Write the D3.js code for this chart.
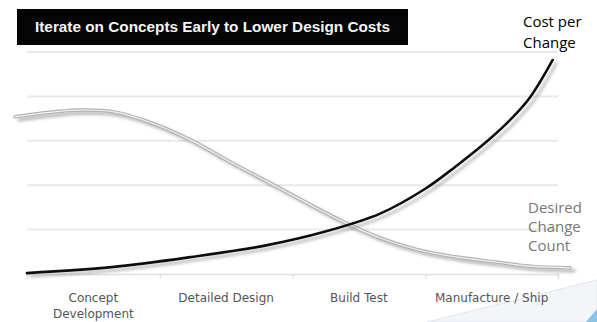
<!DOCTYPE html>
<html>
<head>
<meta charset="utf-8">
<script src="https://cdn.jsdelivr.net/npm/d3@7"></script>
<style>
	body { margin: 0; background: #fff; }
	svg { display: block; }
</style>
</head>
<body>
<svg id="chart" width="597" height="322"></svg>
<script>
// stages along the x axis, 0 = start of concept development
const stages = ["Concept\nDevelopment", "Detailed Design", "Build Test", "Manufacture / Ship"];

// cost per change (black curve)
const costX = [0, 0.655, 1.23, 1.81, 2.24, 2.66, 3.0, 3.22, 3.47, 3.64, 3.79, 3.96];
const costY = [0.02, 0.16, 0.38, 0.65, 0.95, 1.36, 1.92, 2.40, 3.00, 3.47, 3.98, 4.82];

// desired change count (grey curve)
const countX = [-0.09, 0.37, 0.655, 0.94, 1.23, 1.52, 1.81, 2.09, 2.38, 2.67, 2.95, 3.24, 3.53, 3.81, 4.09];
const countY = [3.54, 3.69, 3.65, 3.40, 3.02, 2.54, 2.08, 1.63, 1.18, 0.80, 0.54, 0.38, 0.27, 0.17, 0.14];

const gridValues = [1, 2, 3, 4, 5];

const svg = d3.select("#chart");

const x = d3.scaleLinear().domain([0, 4]).range([27, 558]);
const y = d3.scaleLinear().domain([0, 5]).range([274, 52]);

// drop shadow
const defs = svg.append("defs");
const f = defs.append("filter").attr("id", "shadow")
	.attr("x", "-10%").attr("y", "-10%").attr("width", "130%").attr("height", "130%");
f.append("feDropShadow")
	.attr("dx", 4).attr("dy", 3)
	.attr("stdDeviation", 1.6)
	.attr("flood-color", "#777")
	.attr("flood-opacity", 0.5);

// corner decoration
svg.append("polygon")
	.attr("points", "427,322 597,280 597,322")
	.attr("fill", "#f3f5f8")
	.attr("stroke", "#dfe5ec")
	.attr("stroke-width", 1);
svg.append("polygon")
	.attr("points", "586,322 597,309 597,322")
	.attr("fill", "#8cc2e6");

// gridlines
svg.append("g").selectAll("line")
	.data(gridValues)
	.join("line")
	.attr("x1", x(0)).attr("x2", x(4))
	.attr("y1", d => y(d)).attr("y2", d => y(d))
	.attr("stroke", "#e9e9e9")
	.attr("stroke-width", 2);

// x axis
const axis = svg.append("g")
	.attr("transform", "translate(0," + y(0) + ")")
	.call(d3.axisBottom(x).tickValues([0, 1, 2, 3, 4]).tickSize(5).tickFormat(""));
axis.select(".domain").attr("stroke", "#e0e0e0").attr("stroke-width", 1.5);
axis.selectAll(".tick line").attr("stroke", "#e0e0e0").attr("stroke-width", 1.2);

// stage labels
stages.forEach(function(s, i) {
	const t = svg.append("text")
		.attr("x", x(i + 0.5))
		.attr("y", 302)
		.attr("text-anchor", "middle")
		.attr("font-family", "DejaVu Sans, sans-serif")
		.attr("font-size", 12)
		.attr("fill", "#555");
	s.split("\n").forEach(function(part, j) {
		t.append("tspan")
			.attr("x", x(i + 0.5))
			.attr("dy", j == 0 ? 0 : 16)
			.text(part);
	});
});

const line = d3.line()
	.x(d => x(d[0]))
	.y(d => y(d[1]))
	.curve(d3.curveCatmullRom.alpha(0.5));

const countPts = d3.zip(countX, countY);
const costPts = d3.zip(costX, costY);

// grey curve: outer stroke then light core
svg.append("path")
	.attr("d", line(countPts))
	.attr("fill", "none")
	.attr("stroke", "#b4b4b4")
	.attr("stroke-width", 3.6)
	.attr("stroke-linecap", "round")
	.attr("filter", "url(#shadow)");
svg.append("path")
	.attr("d", line(countPts))
	.attr("fill", "none")
	.attr("stroke", "#f2f2f2")
	.attr("stroke-width", 1.2)
	.attr("stroke-linecap", "round");

// black curve
svg.append("path")
	.attr("d", line(costPts))
	.attr("fill", "none")
	.attr("stroke", "#111")
	.attr("stroke-width", 2.6)
	.attr("stroke-linecap", "round")
	.attr("filter", "url(#shadow)");

// title bar
svg.append("rect")
	.attr("x", 17).attr("y", 9)
	.attr("width", 391).attr("height", 36)
	.attr("fill", "#050505");
svg.append("text")
	.attr("x", 35).attr("y", 32)
	.attr("font-family", "Liberation Sans, Arial, sans-serif")
	.attr("font-weight", "bold")
	.attr("font-size", 14)
	.attr("fill", "#f4f4f4")
	.attr("textLength", 355)
	.attr("lengthAdjust", "spacingAndGlyphs")
	.text("Iterate on Concepts Early to Lower Design Costs");

// series labels
const costLabel = svg.append("text")
	.attr("font-family", "Open Sans, Liberation Sans, sans-serif")
	.attr("font-size", 15)
	.attr("fill", "#000");
costLabel.append("tspan").attr("x", 523).attr("y", 27).text("Cost per");
costLabel.append("tspan").attr("x", 523).attr("y", 48).text("Change");

const countLabel = svg.append("text")
	.attr("font-family", "Open Sans, Liberation Sans, sans-serif")
	.attr("font-size", 15)
	.attr("fill", "#777");
["Desired", "Change", "Count"].forEach(function(w, i) {
	countLabel.append("tspan").attr("x", 528).attr("y", 213 + i * 19).text(w);
});
</script>
</body>
</html>
